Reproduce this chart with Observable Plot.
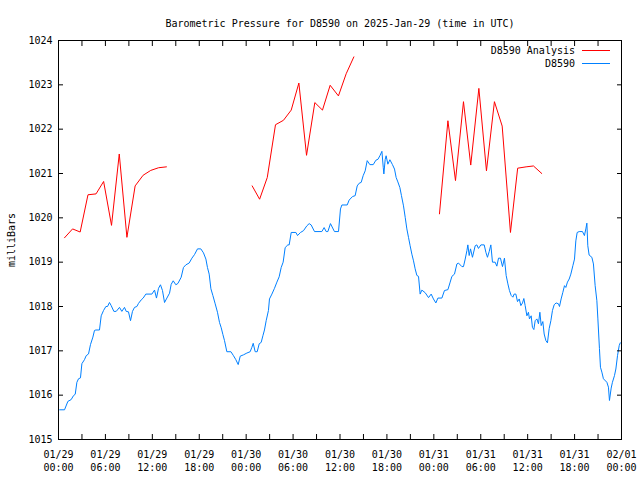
<!DOCTYPE html>
<html>
<head>
<meta charset="utf-8">
<script src="https://cdn.jsdelivr.net/npm/d3@7"></script>
<script src="https://cdn.jsdelivr.net/npm/@observablehq/plot@0.6"></script>
<style>
  html, body { margin: 0; padding: 0; background: white; }
</style>
</head>
<body>
<div id="chart"></div>
<script>
const titleText = "Barometric Pressure for D8590 on 2025-Jan-29 (time in UTC)";
const yLabel = "milliBars";
const seriesNames = ["D8590 Analysis", "D8590"];
const seriesColors = ["#ff0000", "#0080ff"];
const startUTC = Date.UTC(2025, 0, 29, 0, 0);
const endUTC = Date.UTC(2025, 1, 1, 0, 0);
const yTicks = [1015, 1016, 1017, 1018, 1019, 1020, 1021, 1022, 1023, 1024];

// Observations (hours after 2025-01-29 00:00 UTC)
const obsHours = [0.15,0.77,1.2,1.62,1.92,2.14,2.35,2.56,2.81,2.99,3.32,3.54,3.84,4.09,4.4,4.6,4.78,5.24,5.46,5.76,6.06,6.27,6.52,6.74,7.08,7.38,7.8,8.1,8.44,8.66,8.95,9.21,9.46,9.72,10.02,10.23,10.58,10.83,11.17,11.94,12.28,12.53,12.79,13.04,13.3,13.56,13.86,14.2,14.41,14.67,15.01,15.27,15.69,15.98,16.29,16.71,17.06,17.39,17.78,18.2,18.54,18.85,19.05,19.27,19.49,19.74,20.04,20.33,20.59,20.81,21.02,21.23,21.53,22.05,22.38,22.68,22.98,23.24,23.66,24.09,24.51,24.73,24.9,25.15,25.41,25.67,25.92,26.14,26.34,26.56,26.85,26.98,27.29,27.62,27.93,28.22,28.48,28.73,28.99,29.33,29.5,29.76,30.36,30.57,30.95,31.33,31.76,32.06,32.31,32.74,33.68,33.97,34.23,34.45,34.78,35.29,35.81,36.06,36.24,36.92,37.17,37.6,37.94,38.2,38.45,38.71,38.96,39.22,39.48,39.82,40.25,40.59,40.85,41.1,41.36,41.53,41.61,41.78,41.9,42.12,42.38,42.71,42.97,43.18,43.4,43.66,43.86,44.12,44.34,44.55,44.76,44.97,45.19,45.4,45.61,45.83,46.04,46.25,46.47,46.9,47.32,47.66,47.95,48.26,48.52,49.03,49.36,49.8,50.09,50.31,50.64,50.95,51.15,51.59,51.79,52.01,52.23,52.35,52.52,52.69,52.94,53.29,53.5,53.71,54.02,54.44,54.66,54.86,55.08,55.29,55.5,55.84,56.06,56.27,56.52,56.78,57.03,57.25,57.47,57.67,57.89,58.11,58.27,58.49,58.7,58.92,59.13,59.34,59.51,59.68,59.9,60.1,60.23,60.45,60.61,60.79,60.96,61.18,61.38,61.56,61.73,61.94,62.11,62.33,62.53,62.75,62.97,63.17,63.39,63.64,63.94,64.07,64.28,64.5,64.71,64.88,65.09,65.31,65.52,65.78,65.99,66.16,66.33,66.59,67.01,67.26,67.44,67.57,67.69,67.86,68.21,68.41,68.63,68.85,68.98,69.18,69.31,69.49,69.69,70.13,70.33,70.46,70.68,70.84,71.1,71.28,71.49,71.71,71.84];
const obsValues = [1015.67,1015.67,1015.86,1015.90,1015.99,1016.02,1016.29,1016.37,1016.39,1016.71,1016.80,1016.89,1016.93,1017.14,1017.31,1017.46,1017.47,1017.47,1017.79,1017.91,1018.00,1018.00,1018.09,1018.02,1017.89,1017.89,1017.98,1017.89,1017.98,1017.89,1017.88,1017.68,1017.89,1017.98,1018.00,1018.07,1018.15,1018.19,1018.28,1018.28,1018.37,1018.19,1018.41,1018.49,1018.36,1018.09,1018.19,1018.30,1018.50,1018.58,1018.49,1018.52,1018.66,1018.88,1018.94,1018.98,1019.09,1019.17,1019.30,1019.30,1019.21,1019.07,1018.88,1018.73,1018.40,1018.25,1018.06,1017.87,1017.64,1017.52,1017.37,1017.23,1016.98,1016.98,1016.89,1016.80,1016.69,1016.88,1016.91,1016.95,1016.98,1017.08,1017.17,1016.98,1016.98,1017.16,1017.19,1017.34,1017.47,1017.68,1017.91,1018.17,1018.28,1018.41,1018.55,1018.67,1018.88,1019.00,1019.33,1019.39,1019.39,1019.67,1019.67,1019.60,1019.67,1019.71,1019.82,1019.87,1019.84,1019.69,1019.69,1019.78,1019.69,1019.69,1019.87,1019.69,1019.69,1020.20,1020.29,1020.29,1020.40,1020.48,1020.50,1020.72,1020.78,1020.80,1020.95,1021.06,1021.29,1021.20,1021.20,1021.30,1021.32,1021.40,1021.50,1021.14,1020.99,1021.32,1021.40,1021.21,1021.31,1021.20,1021.10,1020.91,1020.81,1020.68,1020.50,1020.27,1020.01,1019.75,1019.56,1019.37,1019.18,1019.03,1018.85,1018.70,1018.68,1018.28,1018.37,1018.31,1018.20,1018.28,1018.17,1018.08,1018.19,1018.19,1018.36,1018.38,1018.55,1018.68,1018.73,1018.96,1018.98,1018.90,1018.90,1019.07,1019.26,1019.39,1019.15,1019.30,1019.11,1019.37,1019.39,1019.31,1019.39,1019.39,1019.22,1019.11,1019.24,1019.39,1019.00,1019.00,1018.91,1019.09,1019.09,1018.90,1019.09,1018.70,1018.51,1018.36,1018.25,1018.21,1018.28,1018.28,1018.11,1018.17,1018.02,1018.08,1018.18,1018.02,1017.79,1017.87,1017.72,1017.79,1017.53,1017.48,1017.68,1017.72,1017.61,1017.87,1017.57,1017.66,1017.38,1017.23,1017.18,1017.50,1017.68,1017.91,1018.04,1018.08,1018.06,1018.00,1018.17,1018.32,1018.47,1018.43,1018.55,1018.62,1018.73,1018.92,1019.07,1019.48,1019.67,1019.69,1019.69,1019.60,1019.75,1019.88,1019.37,1019.16,1019.11,1018.96,1018.47,1018.13,1017.72,1017.05,1016.63,1016.52,1016.37,1016.29,1016.18,1015.88,1016.16,1016.29,1016.44,1016.59,1016.89,1017.12,1017.18];

// Analysis (hourly, with gaps marked by null)
const anaHours = [0.77,1.8,2.77,3.77,4.8,5.77,6.78,7.77,8.75,9.8,10.82,11.8,12.8,13.8, 19.0, 24.77,25.72,26.7,27.75,28.77,29.76,30.74,31.72,32.78,33.76,34.74,35.8,36.79,37.77, 43.0, 48.72,49.8,50.77,51.79,52.72,53.76,54.73,55.75,56.74,57.8,58.72,59.8,60.74,61.8];
const anaValues = [1019.55,1019.75,1019.68,1020.52,1020.54,1020.82,1019.83,1021.44,1019.56,1020.72,1020.96,1021.07,1021.13,1021.15, null, 1020.72,1020.42,1020.91,1022.10,1022.20,1022.43,1023.04,1021.41,1022.60,1022.43,1022.99,1022.75,1023.25,1023.63, null, 1020.09,1022.19,1020.84,1022.62,1021.19,1022.92,1021.06,1022.62,1022.07,1019.67,1021.12,1021.15,1021.17,1021.00];

const toDate = h => new Date(startUTC + h * 3600e3);
const obs = obsHours.map((h, i) => ({t: toDate(h), v: obsValues[i]}));
const ana = anaHours.map((h, i) => ({t: toDate(h), v: anaValues[i]}));

const ticks3h = d3.utcHour.every(3).range(new Date(startUTC), new Date(endUTC + 1));
const ticks6h = d3.utcHour.every(6).range(new Date(startUTC), new Date(endUTC + 1));
const fmt = d3.utcFormat("%m/%d\n%H:%M");
const blank = () => "";

function legendMark(index, scales, values, dimensions) {
  const g = d3.create("svg:g");
  const right = dimensions.width - dimensions.marginRight;
  const top = dimensions.marginTop;
  seriesNames.forEach((name, i) => {
    const y = top + 10.5 + i * 13;
    g.append("text")
      .attr("x", right - 46).attr("y", y)
      .attr("dy", "0.35em")
      .attr("text-anchor", "end")
      .attr("fill", "black")
      .attr("font-family", "DejaVu Sans Mono")
      .attr("font-size", 10)
      .text(name);
    g.append("line")
      .attr("x1", right - 39).attr("x2", right - 11)
      .attr("y1", y).attr("y2", y)
      .attr("stroke", seriesColors[i])
      .attr("stroke-width", 1);
  });
  return g.node();
}

const chart = Plot.plot({
  width: 640,
  height: 480,
  marginLeft: 58,
  marginRight: 19,
  marginTop: 40,
  marginBottom: 41,
  style: {fontFamily: "DejaVu Sans Mono", fontSize: "10px", background: "white", color: "black"},
  x: {type: "utc", domain: [new Date(startUTC), new Date(endUTC)]},
  y: {domain: [1015, 1024]},
  marks: [
    Plot.line(obs, {x: "t", y: "v", stroke: seriesColors[1], strokeWidth: 1}),
    Plot.line(ana, {x: "t", y: "v", stroke: seriesColors[0], strokeWidth: 1}),
    Plot.frame({stroke: "black", strokeWidth: 1}),
    Plot.axisX({anchor: "bottom", ticks: ticks3h, tickSize: -5, tickFormat: blank, label: null}),
    Plot.axisX({anchor: "top", ticks: ticks3h, tickSize: -5, tickFormat: blank, label: null}),
    Plot.axisX({anchor: "bottom", ticks: ticks6h, tickSize: 0, tickPadding: 9, tickFormat: fmt, lineHeight: 1.3, label: null}),
    Plot.axisY({anchor: "left", ticks: yTicks, tickSize: -5, tickFormat: blank, label: null}),
    Plot.axisY({anchor: "right", ticks: yTicks, tickSize: -5, tickFormat: blank, label: null}),
    Plot.axisY({anchor: "left", ticks: yTicks, tickSize: 0, tickPadding: 6, tickFormat: d => String(d), label: null}),
    Plot.text([titleText], {frameAnchor: "top", dy: -21, fill: "black"}),
    Plot.text([yLabel], {frameAnchor: "left", dx: -47, rotate: -90, textAnchor: "middle", fill: "black"}),
    legendMark
  ]
});
document.getElementById("chart").appendChild(chart);
</script>
</body>
</html>
